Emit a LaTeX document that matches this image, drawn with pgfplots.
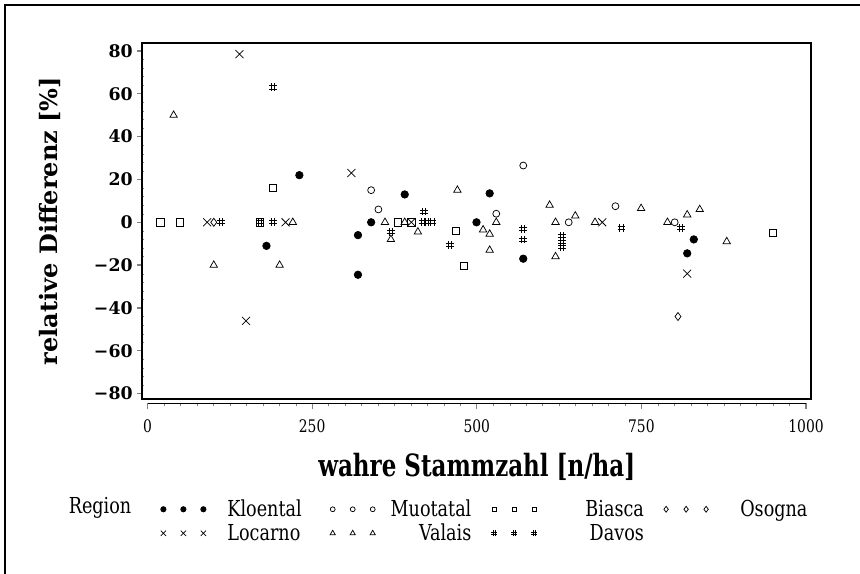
\documentclass[border=0pt]{standalone}
\usepackage{fontspec}
\setmainfont{DejaVu Serif}
\newfontfamily\condfont{DejaVu Serif}[FakeStretch=0.8]
\newfontfamily\condboldfont{DejaVu Serif Bold}[FakeStretch=0.75]
\usepackage{pgfplots}
\pgfplotsset{compat=1.18}

\pgfdeclareplotmark{hash}{%
  \pgfpathmoveto{\pgfqpoint{-0.4\pgfplotmarksize}{-\pgfplotmarksize}}%
  \pgfpathlineto{\pgfqpoint{-0.4\pgfplotmarksize}{\pgfplotmarksize}}%
  \pgfpathmoveto{\pgfqpoint{0.4\pgfplotmarksize}{-\pgfplotmarksize}}%
  \pgfpathlineto{\pgfqpoint{0.4\pgfplotmarksize}{\pgfplotmarksize}}%
  \pgfpathmoveto{\pgfqpoint{-\pgfplotmarksize}{-0.4\pgfplotmarksize}}%
  \pgfpathlineto{\pgfqpoint{\pgfplotmarksize}{-0.4\pgfplotmarksize}}%
  \pgfpathmoveto{\pgfqpoint{-\pgfplotmarksize}{0.4\pgfplotmarksize}}%
  \pgfpathlineto{\pgfqpoint{\pgfplotmarksize}{0.4\pgfplotmarksize}}%
  \pgfusepathqstroke}

\pgfplotsset{
  leg/.style={legend image code/.code={%
    \draw[mark repeat=1,mark phase=1,only marks,##1,mark size=#1]
      plot coordinates {(0pt,0pt) (15pt,0pt) (30pt,0pt)};}},
}

\begin{document}
\begin{tikzpicture}[x=1pt,y=1pt]
\path[use as bounding box] (0,0) rectangle (645,430.5);
\draw[line width=0.9pt] (3.75,0) -- (3.75,426.75) -- (645,426.75);

\begin{axis}[
  at={(106.5pt,131.25pt)}, anchor=south west,
  scale only axis, width=501.75pt, height=267pt,
  xmin=-9, xmax=1007, ymin=-82.5, ymax=83.7,
  xtick=\empty,
  ytick pos=left,
  ytick={-80,-60,-40,-20,0,20,40,60,80},
  yticklabels={−80,−60,−40,−20,0,20,40,60,80},
  minor y tick num=4,
  tick align=outside,
  major tick length=3.5pt,
  minor tick length=1.8pt,
  minor y tick style={xshift=1.8pt},
  major tick style={line width=1pt},
  axis line style={line width=1.3pt},
  yticklabel style={font=\bfseries\fontsize{13}{15}\selectfont},
  ylabel={relative Differenz [\%]},
  ylabel style={at={(axis description cs:-0.1375,0.5)}, anchor=center, rotate=0,
    font=\bfseries\fontsize{18}{20}\selectfont},
  legend columns=4,
  legend cell align=left,
  legend style={at={(0.028,-0.276)}, anchor=north west, draw=none, fill=none,
    inner sep=0pt, outer sep=0pt,
    font=\condfont\fontsize{16.5}{18}\selectfont,
    /tikz/every odd column/.append style={column sep=14pt},
    /tikz/every even column/.append style={column sep=13pt},
    row sep=0pt},
  every axis plot/.append style={only marks, black, mark options={line width=0.55pt, black}},
]
% Kloental
\addplot[mark=*, mark size=2.8pt, leg=2pt] coordinates {
 (230,22) (339,0) (390,13) (519,13.5) (319,-6) (319,-24.5) (499,0) (570,-17)
 (180,-11) (829,-8) (819,-14.5)};
\addlegendentry{\makebox[62pt][l]{Kloental}}
% Muotatal
\addplot[mark=o, mark size=2.6pt, leg=1.8pt] coordinates {
 (339,15) (350,6) (570,26.5) (529,4) (639,0) (710,7.5) (800,0)};
\addlegendentry{\makebox[56pt][r]{Muotatal}}
% Biasca
\addplot[mark=square, mark size=2.7pt, leg=1.8pt] coordinates {
 (19,0) (49,0) (170,0) (190,16) (379,0) (400,0) (468,-4) (480,-20.5) (949,-5)};
\addlegendentry{\makebox[64pt][r]{Biasca}}
% Osogna
\addplot[mark=diamond, mark size=3pt, leg=2.2pt] coordinates {
 (100,0) (805,-44)};
\addlegendentry{\makebox[62pt][l]{\hspace{8pt}Osogna}}
% Locarno
\addplot[mark=x, mark size=4.2pt, leg=2.8pt] coordinates {
 (139,78.5) (309,23) (90,0) (209,0) (400,0) (149,-46) (690,0) (819,-24)};
\addlegendentry{\makebox[62pt][l]{Locarno}}
% Valais
\addplot[mark=triangle, mark size=3.2pt, leg=2.3pt] coordinates {
 (39,50) (220,0) (100,-20) (200,-20) (470,15) (360,0) (390,0) (369,-8) (410,-4.5)
 (509,-3.5) (519,-5.5) (519,-13) (529,0) (610,8) (619,0) (649,3) (619,-16) (679,0)
 (749,6.5) (789,0) (819,3.5) (838,6) (879,-9)};
\addlegendentry{\makebox[56pt][r]{Valais}}
% Davos
\addplot[mark=hash, mark size=2.9pt, leg=2.2pt] coordinates {
 (190,63) (111,0) (170,0) (190,0) (419,5) (417,0) (424,0) (432,0) (369,-4.5)
 (459,-10.5) (570,-3) (570,-8) (629,-6.5) (629,-9) (629,-11.5) (719,-2.5) (810,-2.5)};
\addlegendentry{\makebox[64pt][r]{Davos}}
\end{axis}

\begin{axis}[
  at={(110.625pt,128pt)}, anchor=south west,
  scale only axis, width=493.875pt, height=50pt,
  xmin=0, xmax=1000, ymin=0, ymax=1,
  axis x line*=bottom, hide y axis,
  xtick={0,250,500,750,1000},
  xticklabels={0,250,500,750,1000},
  minor x tick num=9,
  tick align=outside,
  major tick length=4pt,
  minor tick length=2.2pt,
  major tick style={line width=0.9pt},
  axis line style={line width=1.1pt},
  xticklabel style={font=\condfont\fontsize{13}{15}\selectfont, yshift=-5pt},
  xlabel={wahre Stammzahl [n/ha]},
  xlabel style={at={(axis description cs:0.5,0)}, yshift=-47.8pt, anchor=center,
    font=\condboldfont\fontsize{23}{25}\selectfont},
]
\addplot[draw=none] coordinates {(0,0)};
\end{axis}

\node[font=\condfont\fontsize{16.5}{18}\selectfont] at (75,49.5) {Region};
\end{tikzpicture}
\end{document}
